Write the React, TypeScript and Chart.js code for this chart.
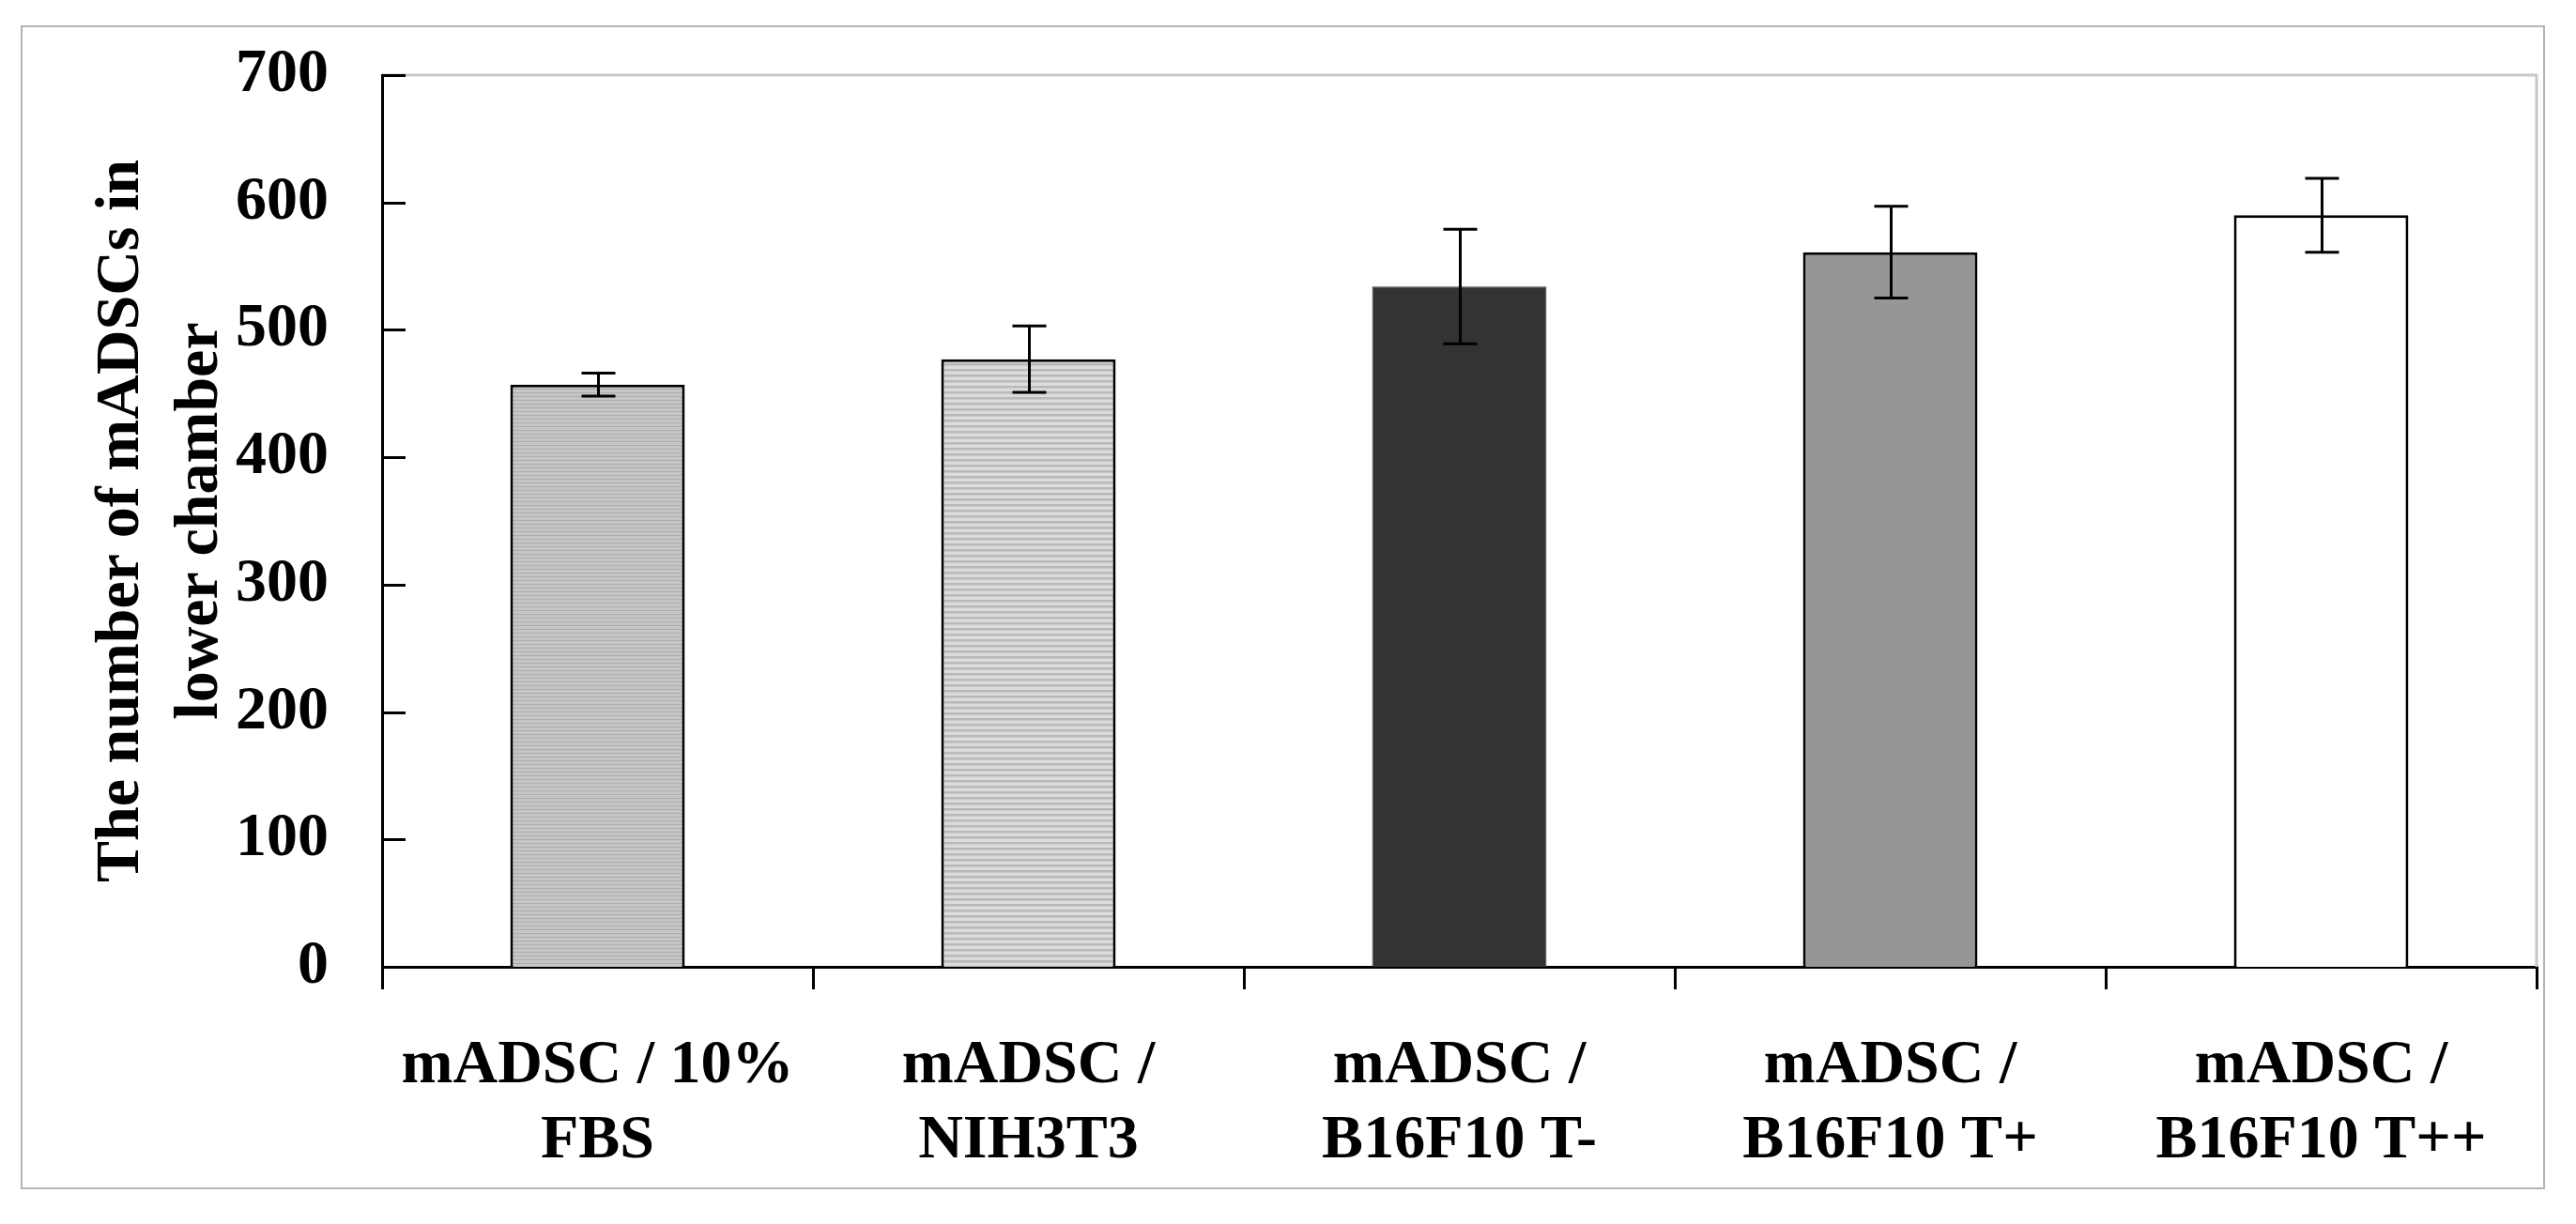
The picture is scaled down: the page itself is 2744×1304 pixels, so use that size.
import React, { useEffect, useRef } from 'react';
import { Chart, registerables } from 'chart.js';

Chart.register(...registerables);

const categories: string[][] = [
  ['mADSC / 10%', 'FBS'],
  ['mADSC /', 'NIH3T3'],
  ['mADSC /', 'B16F10 T-'],
  ['mADSC /', 'B16F10 T+'],
  ['mADSC /', 'B16F10 T++'],
];
const means: number[] = [457, 477, 534, 561, 590];
const errors: number[] = [9, 26, 45, 36, 29];
const yMin = 0;
const yMax = 700;
const yStep = 100;
const yTitle: string[] = ['The number of mADSCs in', 'lower chamber'];

const FONT = '"Liberation Serif", "Times New Roman", serif';

function stripePattern(rows: string[]): CanvasPattern | string {
  const c = document.createElement('canvas');
  c.width = 8;
  c.height = rows.length;
  const ctx = c.getContext('2d');
  if (!ctx) return rows[0];
  rows.forEach((col, i) => {
    ctx.fillStyle = col;
    ctx.fillRect(0, i, 8, 1);
  });
  return ctx.createPattern(c, 'repeat') || rows[0];
}

const decorPlugin = {
  id: 'decor',
  beforeDraw(chart: any) {
    const ctx = chart.ctx;
    ctx.save();
    ctx.fillStyle = '#ffffff';
    ctx.fillRect(0, 0, chart.width, chart.height);
    ctx.strokeStyle = '#b4b4b4';
    ctx.lineWidth = 2;
    ctx.strokeRect(23, 28, 2687, 1238);
    ctx.restore();
  },
  beforeDatasetsDraw(chart: any) {
    const ctx = chart.ctx;
    const a = chart.chartArea;
    ctx.save();
    ctx.strokeStyle = '#c8c8c8';
    ctx.lineWidth = 3;
    ctx.beginPath();
    ctx.moveTo(a.left, a.top);
    ctx.lineTo(a.right, a.top);
    ctx.lineTo(a.right, a.bottom);
    ctx.stroke();
    ctx.restore();
  },
  afterDatasetsDraw(chart: any) {
    const ctx = chart.ctx;
    const y = chart.scales.y;
    const a = chart.chartArea;
    const meta = chart.getDatasetMeta(0);
    ctx.save();
    ctx.strokeStyle = '#000';
    ctx.lineWidth = 3;
    // inward y ticks
    for (let v = yMin; v <= yMax; v += yStep) {
      const py = Math.round(y.getPixelForValue(v)) + 0.5;
      ctx.beginPath();
      ctx.moveTo(a.left, py);
      ctx.lineTo(a.left + 25, py);
      ctx.stroke();
    }
    // error bars
    meta.data.forEach((bar: any, i: number) => {
      const x = Math.round(bar.x) + 0.5;
      const top = y.getPixelForValue(means[i] + errors[i]);
      const bot = y.getPixelForValue(means[i] - errors[i]);
      const cap = 18;
      ctx.beginPath();
      ctx.moveTo(x, top);
      ctx.lineTo(x, bot);
      ctx.moveTo(x - cap, top);
      ctx.lineTo(x + cap, top);
      ctx.moveTo(x - cap, bot);
      ctx.lineTo(x + cap, bot);
      ctx.stroke();
    });
    ctx.restore();
  },
};

export default function App() {
  const ref = useRef<HTMLCanvasElement | null>(null);

  useEffect(() => {
    if (!ref.current) return;
    const pat1 = stripePattern(['#c6c6c6', '#c6c6c6', '#adadad', '#c6c6c6']);
    const pat2 = stripePattern(['#dcdcdc', '#dcdcdc', '#dcdcdc', '#b9b9b9', '#b9b9b9', '#c9c9c9']);
    const chart = new Chart(ref.current, {
      type: 'bar',
      data: {
        labels: categories,
        datasets: [
          {
            data: means,
            backgroundColor: [pat1, pat2, '#333333', '#969696', '#ffffff'] as any,
            borderColor: ['#000', '#000', '#3a3a3a', '#000', '#000'],
            borderWidth: [3, 3, 1, 3, 3],
            borderSkipped: 'start',
            categoryPercentage: 1,
            barPercentage: 0.405,
          },
        ],
      },
      options: {
        animation: false,
        responsive: false,
        devicePixelRatio: 1,
        layout: { padding: { top: 80, right: 42, left: 0, bottom: 0 } },
        plugins: {
          legend: { display: false },
          tooltip: { enabled: false },
        },
        scales: {
          x: {
            grid: {
              display: true,
              drawOnChartArea: false,
              drawTicks: true,
              tickLength: 24,
              color: '#000',
              lineWidth: 3,
              offset: true,
            },
            border: { display: true, color: '#000', width: 3 },
            ticks: {
              color: '#000',
              font: { family: FONT, size: 66, weight: 'bold', lineHeight: 80 / 66 },
              padding: 42,
              maxRotation: 0,
              minRotation: 0,
              autoSkip: false,
            },
            afterFit(scale: any) {
              scale.height = 274;
            },
          },
          y: {
            min: yMin,
            max: yMax,
            grid: { display: false, drawTicks: true, tickLength: 57 },
            border: { display: true, color: '#000', width: 3 },
            ticks: {
              stepSize: yStep,
              color: '#000',
              font: { family: FONT, size: 66, weight: 'bold' },
              padding: 0,
            },
            title: {
              display: true,
              text: yTitle,
              color: '#000',
              font: { family: FONT, size: 66, weight: 'bold', lineHeight: 84 / 66 },
              padding: { top: 88, bottom: 0 },
            },
            afterFit(scale: any) {
              scale.width = 407;
            },
          },
        },
      },
      plugins: [decorPlugin],
    });
    return () => chart.destroy();
  }, []);

  return (
    <div style={{ position: 'absolute', left: 0, top: 0, width: 2744, height: 1304, background: '#fff' }}>
      <canvas ref={ref} width={2744} height={1304} style={{ display: 'block', width: 2744, height: 1304 }} />
    </div>
  );
}
